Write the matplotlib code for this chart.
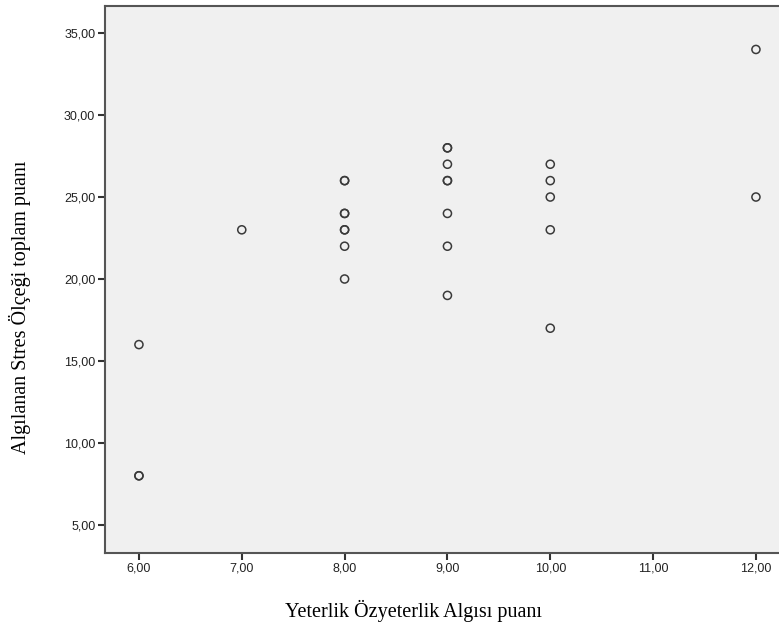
import matplotlib
matplotlib.use("Agg")
import matplotlib.pyplot as plt

# datos (puntos repetidos aparecen mas oscuros)
yeterlik = [6, 6, 6,
            7,
            8, 8, 8, 8, 8, 8, 8, 8,
            9, 9, 9, 9, 9, 9, 9, 9,
            10, 10, 10, 10, 10,
            12, 12]
stres = [16, 8, 8,
         23,
         26, 26, 24, 24, 23, 23, 22, 20,
         28, 28, 27, 26, 26, 24, 22, 19,
         27, 26, 25, 23, 17,
         34, 25]

xticks = [6, 7, 8, 9, 10, 11, 12]
yticks = [5, 10, 15, 20, 25, 30, 35]

fig = plt.figure(figsize=(7.79, 6.30), dpi=100)
ax = fig.add_axes([105/779, 77/630, 1 - 105/779 + 0.01, (553 - 6)/630])
ax.set_facecolor('#f0f0f0')

ax.scatter(yeterlik, stres, s=34, facecolors='none', edgecolors='#3a3a3a',
           linewidths=1.1, zorder=3)

ax.set_xlim(5.67, 12.3)
ax.set_ylim(3.29, 36.65)
ax.set_xticks(xticks)
ax.set_yticks(yticks)
ax.set_xticklabels([f"{v:.2f}".replace('.', ',') for v in xticks])
ax.set_yticklabels([f"{v:.2f}".replace('.', ',') for v in yticks])

for s in ['left', 'bottom', 'top']:
    ax.spines[s].set_color('#555555')
    ax.spines[s].set_linewidth(1.5)
ax.spines['right'].set_visible(False)

ax.tick_params(direction='out', length=5, width=1.5, color='#333333',
               labelsize=9, labelcolor='#222222', pad=2)
for lab in ax.get_xticklabels() + ax.get_yticklabels():
    lab.set_family('Liberation Sans')

# etiquetas de los ejes
fig.text(285/779, 1 - 617/630, "Yeterlik Özyeterlik Algısı puanı",
         family='Liberation Serif', fontsize=14.5, ha='left', va='baseline')
fig.text(20/779, 1 - 160/630, "Algılanan Stres Ölçeği toplam puanı",
         family='Liberation Serif', fontsize=14.5, rotation=90,
         ha='center', va='top')

fig.savefig("out.png", dpi=100)
